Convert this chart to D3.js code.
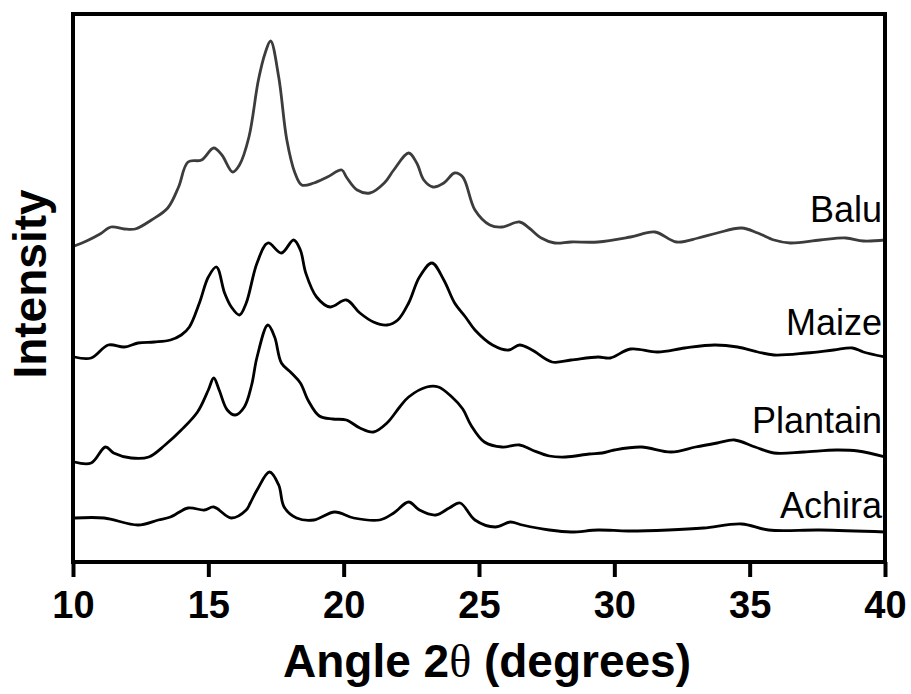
<!DOCTYPE html>
<html>
<head>
<meta charset="utf-8">
<script src="https://cdn.jsdelivr.net/npm/d3@7"></script>
<style>
  body { margin: 0; background: #fff; }
  text { font-family: "Liberation Sans", Arial, sans-serif; }
</style>
</head>
<body>
<div id="xrd"></div>
<script>
// angle (deg) / intensity (a.u., stacked)
var baluAngle = [10.05, 10.5, 11.0, 11.4, 11.9, 12.3, 12.9, 13.5, 13.9, 14.25, 14.75, 15.2, 15.5, 15.9, 16.15, 16.5, 16.85, 17.1, 17.3, 17.6, 17.9, 18.2, 18.45, 18.9, 19.4, 19.93, 20.1, 20.5, 20.97, 21.5, 21.85, 22.4, 22.7, 22.96, 23.3, 23.7, 24.1, 24.4, 24.85, 25.4, 25.85, 26.5, 26.85, 27.3, 27.8, 28.4, 29.4, 30.6, 31.5, 32.3, 33.1, 33.8, 34.7, 35.3, 35.9, 36.5, 37.6, 38.55, 39.2, 40.0];
var baluInt = [316, 321, 328, 335, 333, 333, 342, 354, 375, 400, 402, 414, 407, 390, 397, 425, 482, 509, 521, 485, 422, 389, 377, 379, 385, 392, 385, 372, 369, 379, 392, 409, 399, 382, 375, 379, 389, 385, 352, 337, 335, 340, 334, 324, 319, 320, 320, 325, 330, 320, 324, 329, 334, 329, 322, 319, 322, 324, 321, 322];

var maizeAngle = [10.05, 10.67, 11.3, 11.9, 12.4, 13.0, 13.6, 14.0, 14.3, 14.67, 15.0, 15.3, 15.6, 15.85, 16.15, 16.4, 16.8, 17.2, 17.7, 18.15, 18.4, 18.6, 19.0, 19.5, 20.1, 20.6, 21.1, 21.6, 22.0, 22.4, 22.8, 23.26, 23.7, 24.1, 24.5, 24.85, 25.5, 26.1, 26.5, 26.96, 27.7, 28.4, 29.4, 29.85, 30.6, 31.6, 32.6, 33.7, 34.55, 35.3, 35.9, 37.1, 38.1, 38.8, 39.2, 40.0];
var maizeInt = [205, 204, 217, 215, 219, 220, 222, 227, 235, 259, 285, 295, 269, 255, 247, 259, 299, 319, 309, 322, 312, 289, 265, 255, 262, 249, 240, 237, 242, 259, 285, 299, 282, 259, 245, 232, 217, 212, 217, 212, 200, 202, 205, 204, 213, 210, 214, 217, 215, 210, 207, 209, 212, 214, 210, 205];

var plantainAngle = [10.05, 10.67, 11.2, 11.5, 12.15, 12.8, 13.4, 14.0, 14.6, 15.0, 15.2, 15.4, 15.7, 16.0, 16.33, 16.6, 16.8, 17.2, 17.45, 17.7, 18.07, 18.4, 18.7, 19.1, 19.6, 20.1, 20.6, 21.1, 21.6, 22.07, 22.4, 23.07, 23.5, 24.0, 24.4, 24.7, 25.2, 25.85, 26.5, 26.96, 27.6, 28.2, 29.07, 29.55, 30.0, 31.0, 32.1, 33.0, 33.8, 34.44, 35.2, 35.9, 37.0, 38.2, 39.0, 40.0];
var plantainInt = [100, 99, 115, 109, 104, 105, 117, 132, 150, 172, 184, 172, 152, 147, 155, 177, 205, 237, 225, 199, 189, 179, 161, 146, 143, 142, 134, 130, 139, 155, 165, 175, 175, 165, 153, 137, 120, 115, 117, 112, 106, 105, 108, 109, 112, 115, 110, 115, 119, 122, 115, 109, 110, 112, 111, 105];

var achiraAngle = [10.05, 11.15, 12.4, 13.15, 13.6, 14.25, 14.85, 15.2, 15.85, 16.4, 16.55, 16.8, 17.26, 17.6, 17.8, 18.26, 18.9, 19.67, 20.37, 21.33, 21.85, 22.4, 22.8, 23.4, 23.9, 24.3, 24.85, 25.6, 26.15, 26.6, 27.6, 28.4, 29.4, 30.5, 32.0, 33.3, 34.7, 35.7, 37.6, 40.0];
var achiraInt = [44, 44, 37, 42, 45, 54, 52, 55, 44, 52, 59, 72, 90, 77, 55, 44, 42, 50, 44, 42, 49, 60, 52, 47, 54, 59, 42, 35, 40, 37, 32, 30, 32, 31, 32, 34, 38, 32, 32, 30];

var sampleNames = ["Balu", "Maize", "Plantain", "Achira"];
var sampleColors = ["#3c3c3c", "#000", "#000", "#000"];
var labelLevel = [340, 227, 129, 44];   // baseline of each name, in intensity units
var xTicks = [10, 15, 20, 25, 30, 35, 40];

var samples = [
  { name: "Balu", x: baluAngle, y: baluInt },
  { name: "Maize", x: maizeAngle, y: maizeInt },
  { name: "Plantain", x: plantainAngle, y: plantainInt },
  { name: "Achira", x: achiraAngle, y: achiraInt }
];

var width = 911, height = 694;
var plotL = 73, plotR = 885, plotT = 14, plotB = 562;

var svg = d3.select('#xrd')
    .append('svg')
    .attr('width', width)
    .attr('height', height);

var x = d3.scaleLinear().domain([10, 40]).range([plotL, plotR]);
var y = d3.scaleLinear().domain([0, plotB - plotT]).range([plotB, plotT]);

var line = d3.line()
    .x(function (d) { return x(d[0]); })
    .y(function (d) { return y(d[1]); })
    .curve(d3.curveCatmullRom.alpha(0.5));

svg.append('clipPath').attr('id', 'plotclip')
  .append('rect')
    .attr('x', plotL).attr('y', plotT)
    .attr('width', plotR - plotL).attr('height', plotB - plotT);

svg.selectAll('path.trace')
    .data(samples)
    .enter()
    .append('path')
    .attr('class', 'trace')
    .attr('clip-path', 'url(#plotclip)')
    .attr('fill', 'none')
    .attr('stroke', function (d, i) { return sampleColors[i]; })
    .attr('stroke-width', 2.8)
    .attr('stroke-linejoin', 'round')
    .attr('d', function (d) {
      return line(d.x.map(function (v, i) { return [v, d.y[i]]; }));
    });

// sample names, right aligned against the frame
svg.selectAll('text.name')
    .data(sampleNames)
    .enter()
    .append('text')
    .attr('class', 'name')
    .attr('x', plotR - 3)
    .attr('y', function (d, i) { return y(labelLevel[i]); })
    .attr('text-anchor', 'end')
    .attr('font-size', 36)
    .attr('fill', '#000')
    .text(function (d) { return d; });

// frame
svg.append('rect')
    .attr('x', plotL).attr('y', plotT)
    .attr('width', plotR - plotL).attr('height', plotB - plotT)
    .attr('fill', 'none')
    .attr('stroke', '#000')
    .attr('stroke-width', 4);

var xAxis = svg.append('g')
    .attr('transform', 'translate(0,' + plotB + ')')
    .call(d3.axisBottom(x).tickValues(xTicks).tickSize(15).tickPadding(14));

xAxis.select('.domain').remove();
xAxis.selectAll('line').attr('stroke', '#000').attr('stroke-width', 4);
xAxis.selectAll('text')
    .attr('font-family', '"Liberation Sans", Arial, sans-serif')
    .attr('font-size', 38)
    .attr('font-weight', 'bold')
    .attr('fill', '#000');

// axis titles
var xt = svg.append('text')
    .attr('x', 487)
    .attr('y', 677)
    .attr('text-anchor', 'middle')
    .attr('font-size', 46)
    .attr('font-weight', 'bold');
xt.append('tspan').text('Angle 2');
xt.append('tspan')
    .attr('font-family', '"Liberation Serif", "DejaVu Serif", serif')
    .attr('font-weight', 'normal')
    .text('θ');
xt.append('tspan').text(' (degrees)');

svg.append('text')
    .attr('transform', 'translate(46,284) rotate(-90)')
    .attr('text-anchor', 'middle')
    .attr('font-size', 46)
    .attr('font-weight', 'bold')
    .text('Intensity');
</script>
</body>
</html>
